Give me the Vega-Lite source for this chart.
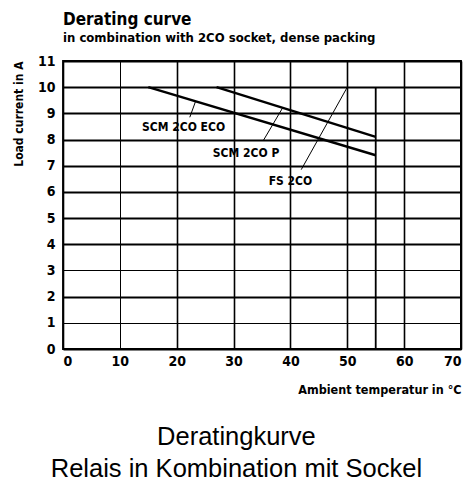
{
  "$schema": "https://vega.github.io/schema/vega-lite/v6.json",
  "autosize": {"type": "none"},
  "padding": {"left": 63, "top": 61, "right": 7, "bottom": 133},
  "width": 398,
  "height": 288,
  "background": "white",
  "config": {
    "view": {"stroke": "black", "strokeWidth": 1.8},
    "font": "Liberation Sans Narrow, DejaVu Sans Condensed, Roboto Condensed, Liberation Sans, sans-serif"
  },
  "title": {
    "text": "Derating curve",
    "subtitle": "in combination with 2CO socket, dense packing",
    "anchor": "start",
    "frame": "group",
    "font": "Liberation Sans Narrow, DejaVu Sans Condensed, Liberation Sans, sans-serif",
    "fontSize": 17,
    "fontWeight": 900,
    "color": "black",
    "subtitleFont": "Liberation Sans Narrow, DejaVu Sans Condensed, Liberation Sans, sans-serif",
    "subtitleFontSize": 13,
    "subtitleFontWeight": "bold",
    "subtitleColor": "black",
    "subtitlePadding": 3,
    "offset": 8
  },
  "datasets": {
    "curves": [
      {"series": "SCM 2CO ECO", "t": 15, "i": 10},
      {"series": "SCM 2CO ECO", "t": 55, "i": 7.4},
      {"series": "SCM 2CO P", "t": 27, "i": 10},
      {"series": "SCM 2CO P", "t": 55, "i": 8.1}
    ],
    "leaders": [
      {"series": "SCM 2CO ECO", "t": 22.3, "i": 8.85},
      {"series": "SCM 2CO ECO", "t": 23.3, "i": 9.45},
      {"series": "SCM 2CO P", "t": 35.2, "i": 7.95},
      {"series": "SCM 2CO P", "t": 38.6, "i": 9.2},
      {"series": "FS 2CO", "t": 41.9, "i": 6.85},
      {"series": "FS 2CO", "t": 50, "i": 10}
    ],
    "labels": [
      {"label": "SCM 2CO ECO", "t": 21.2, "i": 8.47},
      {"label": "SCM 2CO P", "t": 32.2, "i": 7.48},
      {"label": "FS 2CO", "t": 40.0, "i": 6.43}
    ],
    "limit": [
      {"t": 55, "i": 0, "i2": 10},
      {"t": 70, "i": 0, "i2": 11}
    ]
  },
  "layer": [
    {
      "data": {"name": "limit"},
      "mark": {"type": "rule", "color": "black", "strokeWidth": 1.8},
      "encoding": {
        "x": {
          "field": "t", "type": "quantitative",
          "scale": {"domain": [0, 70], "nice": false, "zero": false},
          "axis": {
            "title": "Ambient temperatur in °C",
            "values": [0, 10, 20, 30, 40, 50, 60, 70],
            "tickCount": 8,
            "grid": true,
            "gridColor": "black",
            "gridOpacity": 1,
            "gridWidth": {"condition": {"test": "datum.value == 10", "value": 1}, "value": 1.6},
            "domain": false,
            "ticks": false,
            "labelOverlap": false,
            "labelFlush": true,
            "labelPadding": 5,
            "labelFontSize": 14,
            "labelFontWeight": "bold",
            "labelColor": "black",
            "titleAnchor": "end",
            "titleFontSize": 12.5,
            "titleFontWeight": "bold",
            "titleColor": "black",
            "titlePadding": 15
          }
        },
        "y": {
          "field": "i", "type": "quantitative",
          "scale": {"domain": [0, 11], "nice": false, "zero": false},
          "axis": {
            "title": "Load current in A",
            "values": [0, 1, 2, 3, 4, 5, 6, 7, 8, 9, 10, 11],
            "tickCount": 12,
            "grid": true,
            "gridColor": "black",
            "gridOpacity": 1,
            "gridWidth": {"condition": {"test": "datum.value == 1 || datum.value == 3", "value": 1}, "value": 2},
            "domain": false,
            "ticks": false,
            "labelOverlap": false,
            "labelPadding": 8,
            "labelFontSize": 14,
            "labelFontWeight": "bold",
            "labelColor": "black",
            "titleAnchor": "end",
            "titleFontSize": 12,
            "titleFontWeight": "bold",
            "titleColor": "black",
            "titlePadding": 12
          }
        },
        "y2": {"field": "i2"}
      }
    },
    {
      "data": {"name": "curves"},
      "mark": {"type": "line", "color": "black", "strokeWidth": 2.4},
      "encoding": {
        "x": {"field": "t", "type": "quantitative"},
        "y": {"field": "i", "type": "quantitative"},
        "detail": {"field": "series"}
      }
    },
    {
      "data": {"name": "leaders"},
      "mark": {"type": "line", "color": "black", "strokeWidth": 1},
      "encoding": {
        "x": {"field": "t", "type": "quantitative"},
        "y": {"field": "i", "type": "quantitative"},
        "detail": {"field": "series"}
      }
    },
    {
      "data": {"name": "labels"},
      "mark": {"type": "text", "color": "black", "fontSize": 12, "fontWeight": "bold", "align": "center", "baseline": "middle"},
      "encoding": {
        "x": {"field": "t", "type": "quantitative"},
        "y": {"field": "i", "type": "quantitative"},
        "text": {"field": "label"}
      }
    },
    {
      "data": {"values": [{}]},
      "mark": {
        "type": "text",
        "text": ["Deratingkurve", "Relais in Kombination mit Sockel"],
        "font": "Liberation Sans, Helvetica, Arial, sans-serif",
        "fontSize": 25.5,
        "lineHeight": 32,
        "color": "black",
        "align": "center",
        "baseline": "alphabetic"
      },
      "encoding": {
        "x": {"datum": 30.5, "type": "quantitative"},
        "y": {"datum": -3.65, "type": "quantitative"}
      }
    }
  ]
}
